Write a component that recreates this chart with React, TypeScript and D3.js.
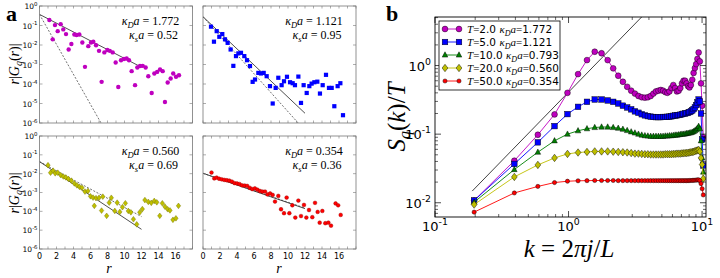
import React from "react";
import * as d3 from "d3";

// ---------- panel (a): r|G_q(r)| against r (log10 of the value) ----------
const magR = [1.16, 1.55, 1.82, 2.14, 2.49, 2.8, 3.12, 3.43, 3.75, 4.1, 4.37, 4.69, 5.04, 5.35, 5.74, 6.06, 6.33, 6.65, 7.0, 7.31, 7.63, 7.98, 8.27, 8.61, 8.96, 9.27, 9.59, 9.94, 10.25, 10.53, 10.84, 11.24, 11.51, 11.82, 12.14, 12.49, 12.8, 13.2, 13.51, 13.84, 14.18, 14.49, 14.76, 15.08, 15.43, 15.73, 16.06, 16.41];
const magExp = [-0.72, -1.71, -0.98, -1.29, -0.93, -1.2, -1.44, -2.23, -1.95, -1.46, -1.49, -1.46, -1.87, -3.12, -2.06, -1.87, -1.83, -2.01, -2.3, -3.89, -2.38, -2.26, -2.3, -2.38, -2.9, -4.15, -2.78, -2.72, -2.69, -2.78, -3.34, -4.06, -3.15, -3.08, -3.07, -3.15, -3.6, -4.46, -3.46, -3.38, -3.26, -3.34, -4.92, -3.92, -3.72, -3.46, -3.63, -3.55];

const blueR = [0.94, 1.29, 1.61, 1.92, 2.27, 2.59, 2.9, 3.25, 3.57, 3.88, 4.16, 4.47, 4.86, 5.18, 5.53, 5.84, 6.12, 6.51, 6.82, 7.14, 7.49, 7.88, 8.2, 8.55, 8.86, 9.25, 9.53, 9.88, 10.24, 10.55, 10.82, 11.22, 11.53, 11.84, 12.2, 12.51, 12.78, 13.1, 13.45, 13.76, 14.08, 14.47, 14.82, 15.14, 15.45, 15.84, 16.16, 16.47];
const blueExp = [-1.06, -1.83, -1.29, -1.58, -1.44, -1.71, -1.89, -2.23, -3.07, -2.57, -2.43, -2.4, -2.57, -2.78, -3.08, -3.89, -3.77, -3.43, -3.46, -3.43, -3.6, -4.11, -5.0, -4.2, -3.68, -4.06, -3.86, -3.63, -3.91, -3.96, -4.06, -3.62, -4.97, -4.06, -4.46, -4.11, -3.98, -3.91, -3.88, -4.49, -4.06, -3.53, -4.2, -4.2, -5.14, -4.11, -3.96, -5.6];

const yelR = [1.0, 1.3, 1.6, 1.85, 2.15, 2.5, 2.8, 3.1, 3.4, 3.75, 4.1, 4.4, 4.7, 5.0, 5.35, 5.7, 6.0, 6.3, 6.45, 6.65, 7.0, 7.3, 7.45, 7.9, 8.2, 8.45, 8.86, 9.14, 9.45, 9.76, 10.1, 10.45, 10.75, 11.05, 11.44, 11.8, 12.1, 12.4, 12.8, 13.15, 13.5, 13.8, 14.15, 14.45, 14.76, 15.08, 15.35, 15.7, 16.05, 16.35];
const yelExp = [-1.55, -1.95, -1.84, -1.98, -1.95, -2.08, -2.15, -2.2, -2.28, -2.37, -2.52, -2.62, -2.7, -2.75, -2.95, -2.92, -3.2, -3.27, -3.71, -3.3, -3.28, -3.96, -3.22, -4.24, -3.54, -3.28, -3.98, -3.54, -4.03, -3.78, -3.57, -3.98, -4.05, -4.42, -4.69, -4.05, -3.88, -3.4, -3.5, -3.55, -3.45, -3.52, -4.24, -3.57, -3.75, -3.89, -3.95, -4.45, -4.37, -3.71];

const redR = [1.0, 1.33, 1.6, 1.9, 2.2, 2.5, 2.8, 3.1, 3.4, 3.7, 4.0, 4.3, 4.6, 4.9, 5.2, 5.5, 5.8, 6.1, 6.4, 6.7, 7.0, 7.3, 7.6, 7.9, 8.2, 8.47, 8.86, 9.18, 9.53, 9.84, 10.16, 10.51, 10.86, 11.22, 11.53, 11.88, 12.16, 12.47, 12.86, 13.18, 13.49, 13.73, 14.04, 14.39, 14.75, 15.06, 15.6, 15.9, 16.2];
const redExp = [-1.94, -2.25, -2.21, -2.27, -2.3, -2.33, -2.35, -2.37, -2.42, -2.5, -2.52, -2.55, -2.62, -2.63, -2.65, -2.75, -2.82, -2.78, -2.85, -2.92, -2.95, -2.95, -3.1, -3.05, -3.13, -3.48, -3.18, -3.89, -4.1, -3.27, -4.1, -3.68, -4.33, -3.43, -4.25, -3.66, -4.33, -3.93, -4.31, -3.55, -4.03, -4.6, -3.98, -4.63, -4.6, -4.76, -3.58, -3.68, -4.19];

// fit parameters shown in each small panel
const kappaD = [1.772, 1.121, 0.56, 0.354];
const kappaS = [0.52, 0.95, 0.69, 0.36];
const fitAmpExp = [-0.43, -0.55, -1.36, -1.98];
const fitREnd = 12;
const rTicks = [0, 2, 4, 6, 8, 10, 12, 14, 16];
const aDecades = [0, -1, -2, -3, -4, -5, -6];

// ---------- panel (b): S_q(k)/T against k = 2 pi j / L ----------
const L = 32;
const jIndex = [1, 2, 3, 4, 5, 6, 7, 8, 9, 10, 11, 12, 13, 14, 15, 16, 17, 18, 19, 20, 21, 22, 23, 24, 25, 26, 27, 28, 29, 30, 31, 32, 33, 34, 35, 36, 37, 38, 39, 40, 41, 42, 43, 44, 45, 46, 47, 48, 49, 50, 51, 52];
const sT2 = [0.0108, 0.041, 0.098, 0.194, 0.4, 0.75, 1.2, 1.59, 1.51, 1.2, 0.91, 0.71, 0.58, 0.49, 0.43, 0.39, 0.36, 0.345, 0.34, 0.345, 0.36, 0.39, 0.42, 0.43, 0.44, 0.43, 0.41, 0.4, 0.42, 0.47, 0.52, 0.47, 0.42, 0.43, 0.47, 0.55, 0.6, 0.6, 0.55, 0.5, 0.48, 0.52, 0.62, 0.78, 0.92, 1.05, 1.25, 1.55, 1.15, 0.55, 0.26, 0.09];
const sT5 = [0.0108, 0.0368, 0.076, 0.131, 0.196, 0.25, 0.296, 0.32, 0.32, 0.31, 0.296, 0.28, 0.26, 0.245, 0.23, 0.215, 0.205, 0.195, 0.188, 0.183, 0.18, 0.178, 0.177, 0.177, 0.177, 0.178, 0.178, 0.179, 0.18, 0.182, 0.185, 0.187, 0.188, 0.19, 0.192, 0.195, 0.198, 0.2, 0.203, 0.205, 0.21, 0.215, 0.222, 0.232, 0.245, 0.265, 0.29, 0.32, 0.3, 0.2, 0.084, 0.035];
const sT10 = [0.0102, 0.0305, 0.0546, 0.08, 0.1, 0.112, 0.12, 0.125, 0.127, 0.127, 0.125, 0.122, 0.118, 0.113, 0.108, 0.104, 0.1, 0.097, 0.095, 0.094, 0.093, 0.093, 0.093, 0.093, 0.093, 0.093, 0.094, 0.094, 0.095, 0.095, 0.096, 0.097, 0.097, 0.098, 0.099, 0.1, 0.1, 0.101, 0.102, 0.103, 0.104, 0.105, 0.107, 0.109, 0.112, 0.116, 0.122, 0.13, 0.12, 0.08, 0.045, 0.028];
const sT20 = [0.0094, 0.0238, 0.0356, 0.045, 0.0515, 0.054, 0.055, 0.056, 0.056, 0.056, 0.0555, 0.055, 0.0545, 0.054, 0.053, 0.052, 0.052, 0.0515, 0.051, 0.051, 0.0505, 0.0505, 0.0505, 0.0505, 0.0505, 0.0505, 0.051, 0.051, 0.051, 0.051, 0.0515, 0.0515, 0.052, 0.052, 0.052, 0.0525, 0.0525, 0.053, 0.053, 0.0535, 0.054, 0.0545, 0.055, 0.0555, 0.0565, 0.0575, 0.058, 0.059, 0.056, 0.045, 0.036, 0.0224];
const sT50 = [0.0073, 0.0139, 0.0173, 0.0197, 0.0206, 0.0209, 0.021, 0.0211, 0.0211, 0.0211, 0.0211, 0.021, 0.021, 0.021, 0.021, 0.021, 0.021, 0.021, 0.021, 0.021, 0.021, 0.021, 0.021, 0.021, 0.021, 0.021, 0.021, 0.021, 0.021, 0.021, 0.021, 0.021, 0.021, 0.021, 0.021, 0.021, 0.021, 0.021, 0.021, 0.021, 0.0211, 0.0211, 0.0212, 0.0212, 0.0213, 0.0214, 0.0215, 0.0216, 0.021, 0.019, 0.016, 0.013];
const temps = ["2.0", "5.0", "10.0", "20.0", "50.0"];
const kappaDLabels = ["1.772", "1.121", "0.793", "0.560", "0.354"];
const guideCoef = 0.41; // S ~ k^2 guide
const guideK = [0.19, 4];

const MAG = "#bf00bf", BLUE = "#0000ff", GREEN = "#008000", YEL = "#bfbf00", RED = "#ff0000";
const SERIF = "Liberation Serif, DejaVu Serif, serif";
const SANS = "DejaVu Sans, sans-serif";

type Shape = "circle" | "square" | "triangle" | "diamond";

function Marker({ shape, x, y, s, fill, stroke, sw }: { shape: Shape; x: number; y: number; s: number; fill: string; stroke?: string; sw?: number }) {
  const st = { fill, stroke: stroke || "none", strokeWidth: sw || 0 };
  if (shape === "circle") return <circle cx={x} cy={y} r={s} {...st} />;
  if (shape === "square") return <rect x={x - s} y={y - s} width={2 * s} height={2 * s} {...st} />;
  if (shape === "triangle")
    return <path d={`M${x},${y - s * 1.15}L${x + s},${y + s * 0.75}L${x - s},${y + s * 0.75}Z`} {...st} />;
  return <path d={`M${x},${y - s * 1.1}L${x + s * 0.85},${y}L${x},${y + s * 1.1}L${x - s * 0.85},${y}Z`} {...st} />;
}

function Pow10({ x, y, e, size, anchor }: { x: number; y: number; e: number; size: number; anchor: string }) {
  return (
    <text x={x} y={y} fontSize={size} textAnchor={anchor as any} fontFamily={SANS}>
      10<tspan dy={-size * 0.45} fontSize={size * 0.72}>{e}</tspan>
    </text>
  );
}

interface PanelAProps {
  idx: number;
  x0: number; x1: number; y0: number; y1: number;
  r: number[]; e: number[];
  shape: Shape; color: string; size: number; edge?: string;
  xLabels: boolean; yLabels: boolean;
}

function PanelA(p: PanelAProps) {
  const x = d3.scaleLinear().domain([0, 18]).range([p.x0, p.x1]);
  const y = d3.scaleLog().domain([1e-6, 1]).range([p.y1, p.y0]);
  const amp = Math.pow(10, fitAmpExp[p.idx]);
  const rs = [0, fitREnd];
  const solid = rs.map((r) => amp * Math.exp(-kappaS[p.idx] * r));
  const dashed = rs.map((r) => amp * Math.exp(-kappaD[p.idx] * r));
  const lineS = d3.line<number>().x((_, i) => x(rs[i])).y((v) => y(v));
  const clip = `clipA${p.idx}`;
  const cx = p.x1 - 42;
  const ticksX = d3.range(0, 19, 1);
  return (
    <g>
      <defs>
        <clipPath id={clip}>
          <rect x={p.x0} y={p.y0} width={p.x1 - p.x0} height={p.y1 - p.y0} />
        </clipPath>
      </defs>
      <rect x={p.x0} y={p.y0} width={p.x1 - p.x0} height={p.y1 - p.y0} fill="white" />
      <g clipPath={`url(#${clip})`}>
        <path d={lineS(dashed) || ""} stroke="#333" strokeWidth={0.7} strokeDasharray="2,1.6" fill="none" />
        <path d={lineS(solid) || ""} stroke="#222" strokeWidth={0.8} fill="none" />
        {p.r.map((r, i) => (
          <Marker key={i} shape={p.shape} x={x(r)} y={y(Math.pow(10, p.e[i]))} s={p.size} fill={p.color} stroke={p.edge} sw={p.edge ? 0.4 : 0} />
        ))}
      </g>
      {ticksX.map((t) => (
        <g key={"tx" + t} stroke="#777" strokeWidth={0.6}>
          <line x1={x(t)} x2={x(t)} y1={p.y1} y2={p.y1 - 2.5} />
          <line x1={x(t)} x2={x(t)} y1={p.y0} y2={p.y0 + 2.5} />
        </g>
      ))}
      {aDecades.map((d) => (
        <g key={"ty" + d} stroke="#777" strokeWidth={0.6}>
          <line x1={p.x0} x2={p.x0 + 3} y1={y(Math.pow(10, d))} y2={y(Math.pow(10, d))} />
          <line x1={p.x1} x2={p.x1 - 3} y1={y(Math.pow(10, d))} y2={y(Math.pow(10, d))} />
        </g>
      ))}
      <rect x={p.x0} y={p.y0} width={p.x1 - p.x0} height={p.y1 - p.y0} fill="none" stroke="#777" strokeWidth={0.8} />
      {p.xLabels &&
        rTicks.map((t) => (
          <text key={"lx" + t} x={x(t)} y={p.y1 + 10} fontSize={8} textAnchor="middle" fontFamily={SANS}>
            {t}
          </text>
        ))}
      {p.yLabels &&
        aDecades.map((d) => <Pow10 key={"ly" + d} x={p.x0 - 2} y={y(Math.pow(10, d)) + 3} e={d} size={7.5} anchor="end" />)}
      <text x={cx} y={p.y0 + 19} fontSize={12} textAnchor="middle" fontFamily={SERIF}>
        <tspan fontStyle="italic">κ</tspan>
        <tspan fontStyle="italic" fontSize={8.5} dy={2.5}>D</tspan>
        <tspan fontStyle="italic" dy={-2.5}>a</tspan>
        <tspan> = {kappaD[p.idx].toFixed(3)}</tspan>
      </text>
      <text x={cx + 3} y={p.y0 + 33} fontSize={12} textAnchor="middle" fontFamily={SERIF}>
        <tspan fontStyle="italic">κ</tspan>
        <tspan fontStyle="italic" fontSize={8.5} dy={2.5}>s</tspan>
        <tspan fontStyle="italic" dy={-2.5}>a</tspan>
        <tspan> = {kappaS[p.idx].toFixed(2)}</tspan>
      </text>
    </g>
  );
}

function PanelB() {
  const X0 = 435, X1 = 706, Y0 = 17, Y1 = 217;
  const x = d3.scaleLog().domain([0.1, 10.7]).range([X0, X1]);
  const y = d3.scaleLog().domain([0.0062, 5.1]).range([Y1, Y0]);
  const ks = jIndex.map((j) => (2 * Math.PI * j) / L);
  const series = [
    { v: sT2, c: MAG, shape: "circle" as Shape, s: 2.9 },
    { v: sT5, c: BLUE, shape: "square" as Shape, s: 2.8 },
    { v: sT10, c: GREEN, shape: "triangle" as Shape, s: 2.8 },
    { v: sT20, c: YEL, shape: "diamond" as Shape, s: 3.4 },
    { v: sT50, c: RED, shape: "circle" as Shape, s: 2.1 },
  ];
  const line = d3.line<number>().x((_, i) => x(ks[i])).y((v) => y(v));
  const guide = d3.line<number>().x((k) => x(k)).y((k) => y(guideCoef * k * k));
  const xMinor: number[] = [];
  for (const dec of [0.1, 1]) for (let m = 2; m <= 9; m++) xMinor.push(dec * m);
  const yMinor: number[] = [];
  for (const dec of [0.001, 0.01, 0.1, 1]) for (let m = 2; m <= 9; m++) {
    const v = dec * m;
    if (v > 0.0062 && v < 5.1) yMinor.push(v);
  }
  const legY = [29, 42, 55, 68, 81];
  return (
    <g>
      <defs>
        <clipPath id="clipB">
          <rect x={X0} y={Y0} width={X1 - X0} height={Y1 - Y0} />
        </clipPath>
      </defs>
      <g clipPath="url(#clipB)">
        <path d={guide(guideK) || ""} stroke="#111" strokeWidth={0.8} fill="none" />
        {series.map((s, si) => (
          <g key={si}>
            <path d={line(s.v) || ""} stroke={s.c} strokeWidth={0.9} fill="none" />
            {s.v.map((v, i) => (
              <Marker key={i} shape={s.shape} x={x(ks[i])} y={y(v)} s={s.s} fill={s.c} stroke="#000" sw={0.45} />
            ))}
          </g>
        ))}
      </g>
      {[0.1, 1, 10].map((t) => (
        <g key={"mx" + t} stroke="#000" strokeWidth={0.7}>
          <line x1={x(t)} x2={x(t)} y1={Y1} y2={Y1 - 6} />
          <line x1={x(t)} x2={x(t)} y1={Y0} y2={Y0 + 6} />
        </g>
      ))}
      {xMinor.map((t) => (
        <g key={"nx" + t} stroke="#000" strokeWidth={0.6}>
          <line x1={x(t)} x2={x(t)} y1={Y1} y2={Y1 - 3} />
          <line x1={x(t)} x2={x(t)} y1={Y0} y2={Y0 + 3} />
        </g>
      ))}
      {[0.01, 0.1, 1].map((t) => (
        <g key={"my" + t} stroke="#000" strokeWidth={0.7}>
          <line x1={X0} x2={X0 + 6} y1={y(t)} y2={y(t)} />
          <line x1={X1} x2={X1 - 6} y1={y(t)} y2={y(t)} />
        </g>
      ))}
      {yMinor.map((t) => (
        <g key={"ny" + t} stroke="#000" strokeWidth={0.6}>
          <line x1={X0} x2={X0 + 3} y1={y(t)} y2={y(t)} />
          <line x1={X1} x2={X1 - 3} y1={y(t)} y2={y(t)} />
        </g>
      ))}
      <rect x={X0} y={Y0} width={X1 - X0} height={Y1 - Y0} fill="none" stroke="#000" strokeWidth={0.9} />
      {[-1, 0, 1].map((e) => <Pow10 key={"lx" + e} x={x(Math.pow(10, e))} y={231} e={e} size={13} anchor="middle" />)}
      {[-2, -1, 0].map((e) => <Pow10 key={"ly" + e} x={X0 - 4} y={y(Math.pow(10, e)) + 5} e={e} size={13} anchor="end" />)}
      {/* legend */}
      <rect x={439} y={21} width={121} height={69} fill="white" stroke="#000" strokeWidth={0.8} />
      {series.map((s, i) => (
        <g key={"lg" + i}>
          <line x1={445} x2={459} y1={legY[i]} y2={legY[i]} stroke={s.c} strokeWidth={0.9} />
          <Marker shape={s.shape} x={445} y={legY[i]} s={s.s} fill={s.c} stroke="#000" sw={0.45} />
          <Marker shape={s.shape} x={459} y={legY[i]} s={s.s} fill={s.c} stroke="#000" sw={0.45} />
          <text x={467} y={legY[i] + 4} fontSize={11} fontFamily={SERIF}>
            <tspan fontStyle="italic">T</tspan>
            <tspan>=</tspan>
            <tspan fontFamily={SANS} fontSize={10.5}>{temps[i]} </tspan>
            <tspan fontStyle="italic">κ</tspan>
            <tspan fontStyle="italic" fontSize={8} dy={2.5}>D</tspan>
            <tspan fontStyle="italic" dy={-2.5}>a</tspan>
            <tspan>=</tspan>
            <tspan fontFamily={SANS} fontSize={10.5}>{kappaDLabels[i]}</tspan>
          </text>
        </g>
      ))}
      {/* axis labels */}
      <text transform="translate(405,117) rotate(-90)" fontSize={25} textAnchor="middle" fontFamily={SERIF}>
        <tspan fontStyle="italic">S</tspan>
        <tspan fontStyle="italic" fontSize={16} dy={5}>q</tspan>
        <tspan dy={-5}>(</tspan>
        <tspan fontStyle="italic">k</tspan>
        <tspan>)/</tspan>
        <tspan fontStyle="italic">T</tspan>
      </text>
      <text x={569} y={257} fontSize={25} textAnchor="middle" fontFamily={SERIF}>
        <tspan fontStyle="italic">k</tspan>
        <tspan> = 2</tspan>
        <tspan fontStyle="italic">πj</tspan>
        <tspan>/</tspan>
        <tspan fontStyle="italic">L</tspan>
      </text>
    </g>
  );
}

function YLabelA({ cy }: { cy: number }) {
  return (
    <text transform={`translate(19,${cy}) rotate(-90)`} fontSize={14} textAnchor="middle" fontFamily={SERIF}>
      <tspan fontStyle="italic">r</tspan>
      <tspan>|</tspan>
      <tspan fontStyle="italic">G</tspan>
      <tspan fontStyle="italic" fontSize={10} dy={3}>q</tspan>
      <tspan dy={-3}>(</tspan>
      <tspan fontStyle="italic">r</tspan>
      <tspan>)|</tspan>
    </text>
  );
}

export default function App() {
  return (
    <svg width={720} height={278} style={{ position: "absolute", left: 0, top: 0, background: "white" }}>
      <rect x={0} y={0} width={720} height={278} fill="white" />
      <PanelA idx={0} x0={39.5} x1={192.5} y0={6} y1={123} r={magR} e={magExp} shape="circle" color={MAG} size={2.2} xLabels={false} yLabels={true} />
      <PanelA idx={1} x0={203} x1={356} y0={6} y1={123} r={blueR} e={blueExp} shape="square" color={BLUE} size={2.1} xLabels={false} yLabels={false} />
      <PanelA idx={2} x0={39.5} x1={192.5} y0={136} y1={249} r={yelR} e={yelExp} shape="diamond" color={YEL} size={2.6} edge="#6f6f00" xLabels={true} yLabels={true} />
      <PanelA idx={3} x0={203} x1={356} y0={136} y1={249} r={redR} e={redExp} shape="circle" color={RED} size={1.9} edge="#990000" xLabels={true} yLabels={false} />
      <YLabelA cy={64} />
      <YLabelA cy={193} />
      <text x={109} y={273} fontSize={14} fontStyle="italic" textAnchor="middle" fontFamily={SERIF}>r</text>
      <text x={279} y={273} fontSize={14} fontStyle="italic" textAnchor="middle" fontFamily={SERIF}>r</text>
      <text x={6} y={20.5} fontSize={22} fontWeight="bold" fontFamily={SERIF}>a</text>
      <text x={386} y={20.5} fontSize={22} fontWeight="bold" fontFamily={SERIF}>b</text>
      <PanelB />
    </svg>
  );
}
